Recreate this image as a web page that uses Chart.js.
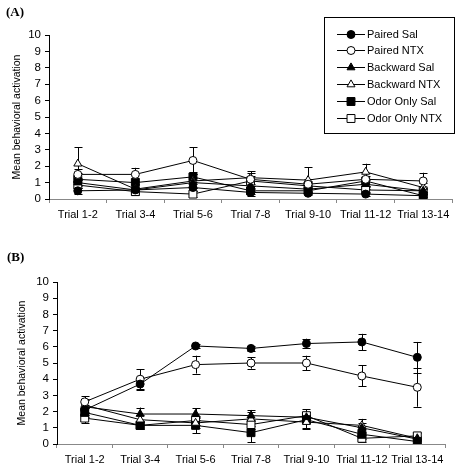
<!DOCTYPE html>
<html>
<head>
<meta charset="utf-8">
<script src="https://cdn.jsdelivr.net/npm/chart.js@4"></script>
<style>
body { margin: 0; background: #fff; }
#wrap { position: relative; width: 462px; height: 470px; }
.panel { position: absolute; left: 0; }
.tag { position: absolute; font: bold 13px "Liberation Serif", "Times New Roman", serif; }
</style>
</head>
<body>
<div id="wrap">
  <canvas id="chartA" class="panel" width="462" height="230" style="top:0"></canvas>
  <canvas id="chartB" class="panel" width="462" height="240" style="top:230px"></canvas>
  <div class="tag" style="left:6px;top:4px">(A)</div>
  <div class="tag" style="left:7px;top:249px">(B)</div>
</div>
<script>
// categories + series names
const trials = ['Trial 1-2', 'Trial 3-4', 'Trial 5-6', 'Trial 7-8', 'Trial 9-10', 'Trial 11-12', 'Trial 13-14'];
const groups = ['Paired Sal', 'Paired NTX', 'Backward Sal', 'Backward NTX', 'Odor Only Sal', 'Odor Only NTX'];
const yTicks = [0, 1, 2, 3, 4, 5, 6, 7, 8, 9, 10];

// Panel A means
const pairedSalA = [0.5, 0.55, 0.7, 0.4, 0.35, 0.3, 0.2];
const pairedNtxA = [1.5, 1.5, 2.35, 1.2, 0.9, 1.2, 1.1];
const backSalA = [1.0, 0.55, 1.0, 0.8, 0.6, 0.9, 0.5];
const backNtxA = [2.15, 0.6, 1.1, 1.3, 1.15, 1.65, 0.7];
const odorSalA = [1.2, 1.0, 1.35, 0.5, 0.5, 1.1, 0.2];
const odorNtxA = [0.85, 0.45, 0.3, 1.1, 0.8, 0.55, 0.5];
// Panel A SEM
const pairedSalAErr = [0.2, 0.2, 0.2, 0.2, 0.1, 0.1, 0.1];
const pairedNtxAErr = [0.3, 0.4, 0.8, 0.4, 0.3, 0.4, 0.5];
const backSalAErr = [0.3, 0.2, 0.3, 0.3, 0.2, 0.3, 0.2];
const backNtxAErr = [1.0, 0.3, 0.4, 0.4, 0.8, 0.5, 0.3];
const odorSalAErr = [0.4, 0.3, 0.3, 0.2, 0.2, 0.3, 0.1];
const odorNtxAErr = [0.3, 0.2, 0.2, 0.3, 0.3, 0.2, 0.2];

// Panel B means
const pairedSalB = [2.1, 3.7, 6.05, 5.9, 6.2, 6.3, 5.35];
const pairedNtxB = [2.6, 4.0, 4.9, 5.0, 5.0, 4.2, 3.5];
const backSalB = [2.3, 1.85, 1.85, 1.75, 1.65, 1.0, 0.3];
const backNtxB = [2.4, 1.5, 1.3, 1.55, 1.35, 1.15, 0.35];
const odorSalB = [1.95, 1.15, 1.15, 0.7, 1.5, 0.6, 0.15];
const odorNtxB = [1.6, 1.15, 1.45, 1.2, 1.75, 0.35, 0.5];
// Panel B SEM
const pairedSalBErr = [0.3, 0.35, 0.1, 0.15, 0.3, 0.5, 0.95];
const pairedNtxBErr = [0.35, 0.6, 0.55, 0.35, 0.45, 0.65, 1.2];
const backSalBErr = [0.4, 0.4, 0.35, 0.35, 0.35, 0.3, 0.15];
const backNtxBErr = [0.4, 0.3, 0.3, 0.45, 0.4, 0.4, 0.15];
const odorSalBErr = [0.3, 0.2, 0.5, 0.6, 0.5, 0.3, 0.1];
const odorNtxBErr = [0.3, 0.2, 0.3, 0.3, 0.4, 0.2, 0.2];

// marker look per group
const markers = [
    { style: 'circle', fill: '#000', radius: 4 },
    { style: 'circle', fill: '#fff', radius: 4 },
    { style: 'triangle', fill: '#000', radius: 4.6 },
    { style: 'triangle', fill: '#fff', radius: 4.6 },
    { style: 'rect', fill: '#000', radius: 5.6 },
    { style: 'rect', fill: '#fff', radius: 5.6 }
];

function makeDatasets(values, errors) {
    return groups.map((name, i) => ({
        label: name,
        data: values[i],
        errors: errors[i],
        borderColor: '#000',
        borderWidth: 1,
        pointStyle: markers[i].style,
        pointRadius: markers[i].radius,
        pointBackgroundColor: markers[i].fill,
        pointBorderColor: '#000',
        pointBorderWidth: 1,
        tension: 0
    }));
}

// vertical SEM bars with caps
const errorBars = {
    id: 'errorBars',
    beforeDatasetsDraw(chart) {
        const ctx = chart.ctx;
        const y = chart.scales.y;
        ctx.save();
        ctx.strokeStyle = '#000';
        ctx.lineWidth = 1;
        chart.data.datasets.forEach((ds, i) => {
            const meta = chart.getDatasetMeta(i);
            ds.data.forEach((v, j) => {
                const e = ds.errors[j];
                const x = Math.round(meta.data[j].x) + 0.5;
                const top = y.getPixelForValue(v + e);
                const bot = y.getPixelForValue(Math.max(0, v - e));
                ctx.beginPath();
                ctx.moveTo(x, top); ctx.lineTo(x, bot);
                ctx.moveTo(x - 4, Math.round(top) + 0.5); ctx.lineTo(x + 4, Math.round(top) + 0.5);
                if (v - e > 0) {
                    ctx.moveTo(x - 4, Math.round(bot) + 0.5); ctx.lineTo(x + 4, Math.round(bot) + 0.5);
                }
                ctx.stroke();
            });
        });
        ctx.restore();
    }
};

// boxed legend in the top right corner of panel A
const boxLegend = {
    id: 'boxLegend',
    afterDraw(chart, args, opts) {
        if (!opts.show) return;
        const ctx = chart.ctx;
        ctx.save();
        ctx.strokeStyle = '#000';
        ctx.lineWidth = 1;
        ctx.strokeRect(324.5, 17.5, 130, 116);
        ctx.font = '11px Arial, "Liberation Sans", sans-serif';
        ctx.textBaseline = 'middle';
        chart.data.datasets.forEach((ds, i) => {
            const ry = Math.round(33.5 + i * 16.9) + 0.5;
            ctx.beginPath();
            ctx.moveTo(337, ry); ctx.lineTo(365, ry);
            ctx.stroke();
            ctx.fillStyle = ds.pointBackgroundColor;
            Chart.helpers.drawPoint(ctx, {
                pointStyle: ds.pointStyle,
                radius: ds.pointRadius,
                rotation: 0,
                borderWidth: 1
            }, 351, ry);
            ctx.fillStyle = '#000';
            ctx.fillText(ds.label, 367, ry);
        });
        ctx.restore();
    }
};

function makeOptions(p) {
    return {
        responsive: false,
        animation: false,
        layout: { padding: { left: 0, right: p.right, top: p.top, bottom: 0 } },
        plugins: {
            legend: { display: false },
            tooltip: { enabled: false },
            boxLegend: { show: p.legend }
        },
        scales: {
            x: {
                type: 'category',
                offset: true,
                grid: { offset: true, drawOnChartArea: false, tickLength: 4, color: '#888' },
                border: { color: '#888', width: 1 },
                ticks: {
                    color: '#000',
                    font: { family: 'Arial, "Liberation Sans", sans-serif', size: 11 },
                    padding: 5,
                    maxRotation: 0,
                    autoSkip: false
                },
                afterFit(scale) { scale.height = p.xHeight; }
            },
            y: {
                min: 0,
                max: 10,
                afterBuildTicks(scale) { scale.ticks = yTicks.map(v => ({ value: v })); },
                grid: { drawOnChartArea: false, tickLength: 4, color: '#000' },
                border: { color: '#000', width: 1 },
                ticks: {
                    color: '#000',
                    font: { family: 'Arial, "Liberation Sans", sans-serif', size: 11.5 },
                    padding: 4,
                    autoSkip: false
                },
                title: {
                    display: true,
                    text: 'Mean behavioral activation',
                    color: '#000',
                    font: { family: 'Arial, "Liberation Sans", sans-serif', size: 10.5 },
                    padding: { top: p.titlePad, bottom: 0 }
                },
                afterFit(scale) { scale.width = p.yWidth; }
            }
        }
    };
}

new Chart(document.getElementById('chartA'), {
    type: 'line',
    data: {
        labels: trials,
        datasets: makeDatasets(
            [pairedSalA, pairedNtxA, backSalA, backNtxA, odorSalA, odorNtxA],
            [pairedSalAErr, pairedNtxAErr, backSalAErr, backNtxAErr, odorSalAErr, odorNtxAErr])
    },
    options: makeOptions({ right: 10, top: 35, xHeight: 31, yWidth: 49, titlePad: 11, legend: true }),
    plugins: [errorBars, boxLegend]
});

new Chart(document.getElementById('chartB'), {
    type: 'line',
    data: {
        labels: trials,
        datasets: makeDatasets(
            [pairedSalB, pairedNtxB, backSalB, backNtxB, odorSalB, odorNtxB],
            [pairedSalBErr, pairedNtxBErr, backSalBErr, backNtxBErr, odorSalBErr, odorNtxBErr])
    },
    options: makeOptions({ right: 17, top: 52, xHeight: 26, yWidth: 57, titlePad: 16, legend: false }),
    plugins: [errorBars, boxLegend]
});
</script>
</body>
</html>
